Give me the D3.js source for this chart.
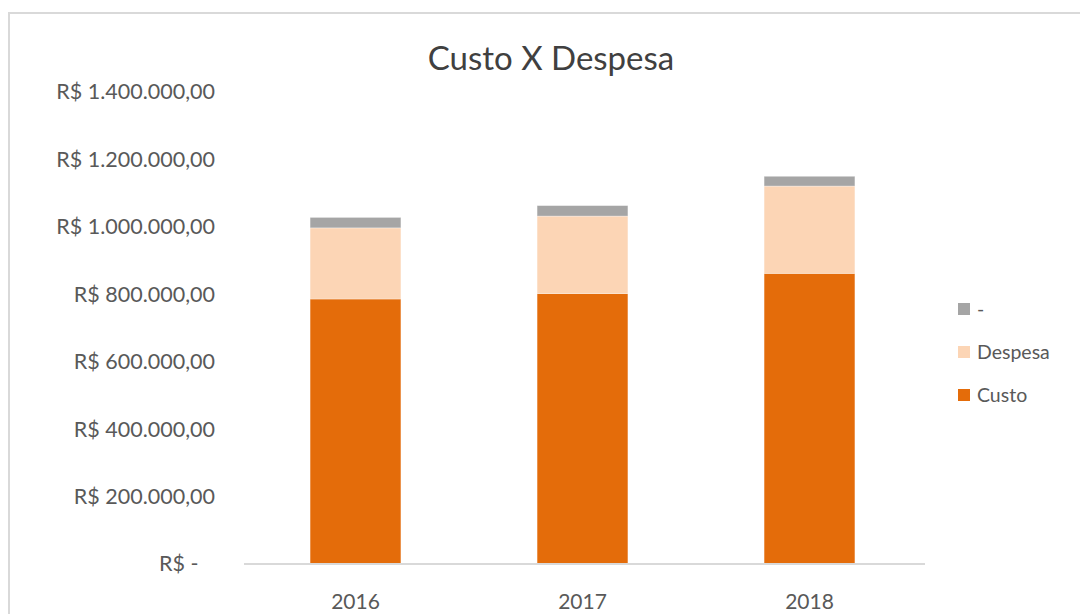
<!DOCTYPE html>
<html>
<head>
<meta charset="utf-8">
<script src="https://cdn.jsdelivr.net/npm/d3@7"></script>
<style>
	body { margin: 0; background: white; }
	text { font-family: Lato, "Open Sans", sans-serif; fill: #595959; }
</style>
</head>
<body>
<script>
var years = ['2016', '2017', '2018']
var custo = [786000, 802000, 862000]
var despesa = [211000, 230000, 259000]
var outro = [31000, 31000, 29000]
var seriesNames = ['Custo', 'Despesa', '-']
var yTicks = [0, 200000, 400000, 600000, 800000, 1000000, 1200000, 1400000]

var width = 1080,
	height = 614

var colors = ['#E46C0A', '#FCD5B5', '#A5A5A5']

var rows = years.map(function (d, i) {
	return { year: d, 'Custo': custo[i], 'Despesa': despesa[i], '-': outro[i] }
})

var stack = d3.stack().keys(seriesNames)
var layers = stack(rows)

var svg = d3.select('body').append('svg')
	.attr('width', width)
	.attr('height', height)

// chart border
svg.append('rect')
	.attr('x', 9)
	.attr('y', 13)
	.attr('width', 1080)
	.attr('height', 620)
	.attr('fill', 'none')
	.attr('stroke', '#d9d9d9')
	.attr('stroke-width', 2)

var x = d3.scaleBand()
	.domain(years)
	.range([242, 923])
	.paddingInner(0.6)
	.paddingOuter(0.3)

var y = d3.scaleLinear()
	.domain([0, 1400000])
	.range([564, 92])

var fmt = function (v) {
	if (v == 0) return 'R$ -   '
	return 'R$ ' + d3.format(',.2f')(v).replace(/,/g, '#').replace('.', ',').replace(/#/g, '.')
}

svg.append('text')
	.attr('x', 551)
	.attr('y', 70)
	.attr('text-anchor', 'middle')
	.style('font-size', '33px')
	.style('fill', '#404040')
	.text('Custo X Despesa')

// bars
svg.selectAll('g.layer')
	.data(layers)
	.enter()
	.append('g')
		.attr('class', 'layer')
		.attr('fill', (d, i) => colors[i])
	.selectAll('rect')
	.data(d => d)
	.enter()
	.append('rect')
		.attr('x', d => x(d.data.year))
		.attr('y', d => y(d[1]))
		.attr('width', x.bandwidth())
		.attr('height', d => y(d[0]) - y(d[1]))
		.attr('stroke', 'white')
		.attr('stroke-opacity', 0.4)
		.attr('stroke-width', 0.8)

// y axis labels
var yAxis = svg.append('g')
	.attr('transform', 'translate(215,0)')
	.call(d3.axisLeft(y).tickValues(yTicks).tickFormat(fmt).tickSize(0).tickPadding(0))
yAxis.select('.domain').remove()
yAxis.selectAll('text')
	.style('font-size', '21.5px')
	.style('font-family', 'Lato, sans-serif')
	.attr('fill', '#595959')
	.style('white-space', 'pre')

// x axis
var xAxis = svg.append('g')
	.attr('transform', 'translate(0,564)')
	.call(d3.axisBottom(x).tickSize(0).tickPadding(30))
xAxis.select('.domain')
	.attr('stroke', '#d9d9d9')
	.attr('stroke-width', 2)
	.attr('d', 'M244,0H925')
xAxis.selectAll('text')
	.style('font-size', '21px')
	.style('font-family', 'Lato, sans-serif')
	.attr('fill', '#595959')

// legend
var legendNames = seriesNames.slice().reverse()
var legendColors = colors.slice().reverse()

svg.selectAll('rect.legend')
	.data(legendNames)
	.enter()
	.append('rect')
		.attr('class', 'legend')
		.attr('x', 958)
		.attr('y', (d, i) => 303 + i * 43)
		.attr('width', 12)
		.attr('height', 12)
		.attr('fill', (d, i) => legendColors[i])

svg.selectAll('text.legend')
	.data(legendNames)
	.enter()
	.append('text')
		.attr('class', 'legend')
		.attr('x', 977)
		.attr('y', (d, i) => 309 + i * 43)
		.attr('dy', '0.35em')
		.style('font-size', '19.5px')
		.text(d => d)
</script>
</body>
</html>
